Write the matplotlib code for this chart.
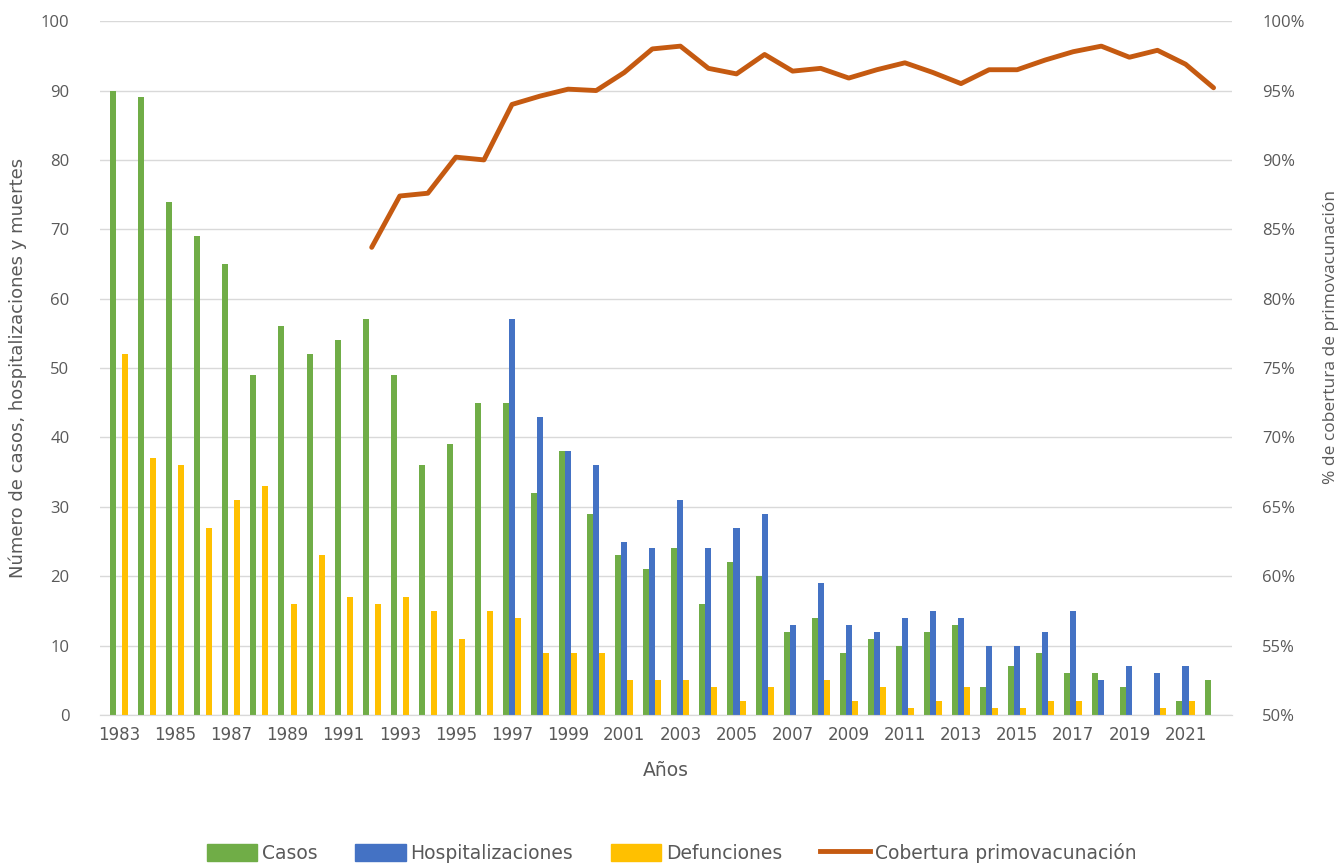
import numpy as np
import matplotlib
matplotlib.use("Agg")
import matplotlib.pyplot as plt
from matplotlib.lines import Line2D
from matplotlib.patches import Patch

years = list(range(1983, 2023))
casos = [90, 89, 74, 69, 65, 49, 56, 52, 54, 57, 49, 36, 39, 45, 45, 32, 38, 29, 23, 21,
         24, 16, 22, 20, 12, 14, 9, 11, 10, 12, 13, 4, 7, 9, 6, 6, 4, 0, 2, 5]
hospitalizaciones = [0, 0, 0, 0, 0, 0, 0, 0, 0, 0, 0, 0, 0, 0, 57, 43, 38, 36, 25, 24,
                     31, 24, 27, 29, 13, 19, 13, 12, 14, 15, 14, 10, 10, 12, 15, 5, 7, 6, 7, 0]
defunciones = [52, 37, 36, 27, 31, 33, 16, 23, 17, 16, 17, 15, 11, 15, 14, 9, 9, 9, 5, 5,
               5, 4, 2, 4, 0, 5, 2, 4, 1, 2, 4, 1, 1, 2, 2, 0, 0, 1, 2, 0]
cob_years = list(range(1992, 2023))
cobertura = [83.7, 87.4, 87.6, 90.2, 90.0, 94.0, 94.6, 95.1, 95.0, 96.3, 98.0, 98.2, 96.6,
             96.2, 97.6, 96.4, 96.6, 95.9, 96.5, 97.0, 96.3, 95.5, 96.5, 96.5, 97.2, 97.8,
             98.2, 97.4, 97.9, 96.9, 95.2]

c_green = "#70AD47"
c_blue = "#4472C4"
c_yellow = "#FFC000"
c_orange = "#C55A11"
gray = "#595959"
narrow = ["Liberation Sans Narrow", "DejaVu Sans"]

fig = plt.figure(figsize=(13.43, 8.64), dpi=100)
ax = fig.add_axes([0.0745, 0.1725, 0.8425, 0.803])
ax2 = ax.twinx()

x = np.arange(len(years))
w = 0.215
ax.bar(x - w, casos, w, color=c_green, zorder=3)
ax.bar(x, hospitalizaciones, w, color=c_blue, zorder=3)
ax.bar(x + w, defunciones, w, color=c_yellow, zorder=3)

cx = np.array([years.index(y) for y in cob_years])
ax2.plot(cx, cobertura, color=c_orange, lw=3.5, solid_joinstyle="round",
         solid_capstyle="round", zorder=4)

ax.set_xlim(-0.68, len(years) - 0.36)
ax.set_ylim(0, 100)
ax.set_yticks(range(0, 101, 10))
ax2.set_ylim(50, 100)
ax2.set_yticks(range(50, 101, 5))
ax2.set_yticklabels([f"{v}%" for v in range(50, 101, 5)])

ax.set_xticks(x[::2])
ax.set_xticklabels([str(y) for y in years[::2]], family=narrow, fontsize=12, color=gray)

ax.grid(axis="y", color="#D9D9D9", lw=1, zorder=0)
for a in (ax, ax2):
    for s in ("top", "left", "right"):
        a.spines[s].set_visible(False)
    a.spines["bottom"].set_color("#D9D9D9")
    a.tick_params(length=0, colors=gray)
ax.tick_params(axis="y", pad=22, labelsize=12)
ax2.tick_params(axis="y", pad=22, labelsize=12)
ax.tick_params(axis="x", pad=8)
for lab in ax.get_yticklabels() + ax2.get_yticklabels():
    lab.set_family("Open Sans")
    lab.set_color(gray)

ax.set_ylabel("Número de casos, hospitalizaciones y muertes", family=narrow,
              fontsize=13, color=gray, labelpad=10)
ax2.set_ylabel("% de cobertura de primovacunación", family="Open Sans",
               fontsize=12.5, color=gray, rotation=90, ha="center", va="center")
ax2.yaxis.set_label_coords(1.0875, 0.545)
ax.set_xlabel("Años", family=narrow, fontsize=13.5, color=gray, labelpad=12)

handles = [Patch(color=c_green), Patch(color=c_blue), Patch(color=c_yellow),
           Line2D([0], [0], color=c_orange, lw=3.5)]
labels = ["Casos", "Hospitalizaciones", "Defunciones", "Cobertura primovacunación"]
fig.legend(handles, labels, loc="center", bbox_to_anchor=(0.5, 0.013), ncol=4,
           frameon=False, prop={"family": narrow, "size": 13.5}, labelcolor=gray,
           handlelength=2.7, handleheight=1.0, columnspacing=2.0, handletextpad=0.25)

fig.savefig("out.png", dpi=100)
